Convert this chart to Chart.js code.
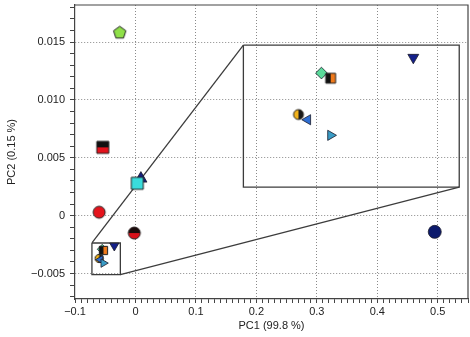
<!DOCTYPE html>
<html>
<head>
<meta charset="utf-8">
<script src="https://cdn.jsdelivr.net/npm/chart.js@4/dist/chart.umd.min.js"></script>
<style>
  html, body { margin: 0; padding: 0; background: #fff; }
  canvas { display: block; }
</style>
</head>
<body>
<canvas id="chart" width="470" height="337"></canvas>
<script>
// ---- data ----
const samples = ["S1", "S2", "S3", "S4", "S5", "S6", "S7", "S8", "S9", "S10", "S11", "S12", "S13"];
const pc1 = [-0.026, -0.054, -0.060, -0.002, 0.009, 0.003, 0.495, -0.055, -0.053, -0.035, -0.060, -0.058, -0.053];
const pc2 = [0.0158, 0.0059, 0.0003, -0.0015, 0.0032, 0.0028, -0.0014, -0.0029, -0.0030, -0.0026, -0.0037, -0.0038, -0.0041];
const clustered = [7, 8, 9, 10, 11, 12]; // samples shown magnified in the inset

const xTicks = [-0.1, 0, 0.1, 0.2, 0.3, 0.4, 0.5];
const xTickLabels = ["\u22120.1", "0", "0.1", "0.2", "0.3", "0.4", "0.5"];
const yTicks = [-0.005, 0, 0.005, 0.010, 0.015];
const yTickLabels = ["\u22120.005", "0", "0.005", "0.010", "0.015"];
const xRange = [-0.1, 0.55];
const yRange = [-0.0072, 0.0182];
const xMinorStep = 0.01;
const yMinorStep = 0.001;

// zoom: small box around the cluster -> big inset box
const zoomFromX = [-0.072, -0.025];
const zoomFromY = [-0.0051, -0.00236];
const zoomToX = [0.1785, 0.5355];
const zoomToY = [0.00246, 0.01474];

// ---- styles ----
function makeMarker(shape, fill, fill2, split, r) {
  const s = Math.ceil(2 * r + 4);
  const c = document.createElement("canvas");
  c.width = s; c.height = s;
  const g = c.getContext("2d");
  g.translate(s / 2, s / 2);
  const path = () => {
    g.beginPath();
    if (shape === "circle") g.arc(0, 0, r, 0, Math.PI * 2);
    else if (shape === "square") g.rect(-r, -r, 2 * r, 2 * r);
    else {
      for (let i = 0; i < 5; i++) {
        const a = -Math.PI / 2 + i * 2 * Math.PI / 5;
        g.lineTo(r * Math.cos(a), r * Math.sin(a));
      }
      g.closePath();
    }
  };
  path(); g.fillStyle = fill; g.fill();
  if (fill2) {
    g.save(); path(); g.clip();
    g.fillStyle = fill2;
    if (split === "top") g.fillRect(-s, -s, 2 * s, s);
    else g.fillRect(0, -s, s, 2 * s);
    g.restore();
  }
  path(); g.lineWidth = 1; g.strokeStyle = "#222"; g.stroke();
  return c;
}

// marker for each sample at a given size (small = in the cluster, big = main / inset)
function styleFor(i, k) {
  switch (i) {
    case 0: return { pointStyle: makeMarker("pentagon", "#8fe048", null, null, 6.5 * k) };
    case 1: return { pointStyle: makeMarker("square", "#e3121c", "#111", "top", 6 * k) };
    case 2: return { pointStyle: makeMarker("circle", "#e5141c", null, null, 6 * k) };
    case 3: return { pointStyle: makeMarker("circle", "#d8101a", "#1a0a0a", "top", 6 * k) };
    case 4: return { pointStyle: "triangle", radius: 7 * k, bg: "#15207e", rot: 0 };
    case 5: return { pointStyle: makeMarker("square", "#39dcdc", null, null, 6 * k) };
    case 6: return { pointStyle: "circle", radius: 6.5 * k, bg: "#0c1a6c", rot: 0 };
    case 7: return { pointStyle: "rectRot", radius: 6.5 * k, bg: "#5ada9a", rot: 0 };
    case 8: return { pointStyle: makeMarker("square", "#111", "#f07a1c", "right", 5.5 * k) };
    case 9: return { pointStyle: "triangle", radius: 7 * k, bg: "#14208a", rot: 180 };
    case 10: return { pointStyle: makeMarker("circle", "#f2b21a", "#1a1a1a", "right", 5.5 * k) };
    case 11: return { pointStyle: "triangle", radius: 6.5 * k, bg: "#2e6ed2", rot: -90 };
    case 12: return { pointStyle: "triangle", radius: 6.5 * k, bg: "#3a9cc6", rot: 90 };
  }
}

function toInset(x, y) {
  const fx = (x - zoomFromX[0]) / (zoomFromX[1] - zoomFromX[0]);
  const fy = (y - zoomFromY[0]) / (zoomFromY[1] - zoomFromY[0]);
  return {
    x: zoomToX[0] + fx * (zoomToX[1] - zoomToX[0]),
    y: zoomToY[0] + fy * (zoomToY[1] - zoomToY[0])
  };
}

function pointDataset(i, pt, k) {
  const st = styleFor(i, k);
  return {
    label: samples[i],
    data: [pt],
    pointStyle: st.pointStyle,
    pointRadius: st.radius || 6 * k,
    pointRotation: st.rot || 0,
    backgroundColor: st.bg || "#000",
    borderColor: "#1a1a2a",
    borderWidth: 0.8
  };
}

function lineDataset(pts) {
  return {
    type: "line",
    data: pts,
    borderColor: "#3c3c3c",
    borderWidth: 1.3,
    pointRadius: 0,
    fill: false,
    tension: 0
  };
}

// ---- datasets ----
const datasets = [];
datasets.push(lineDataset([
  { x: zoomFromX[0], y: zoomFromY[1] }, { x: zoomFromX[1], y: zoomFromY[1] },
  { x: zoomFromX[1], y: zoomFromY[0] }, { x: zoomFromX[0], y: zoomFromY[0] },
  { x: zoomFromX[0], y: zoomFromY[1] }
]));
datasets.push(lineDataset([
  { x: zoomToX[0], y: zoomToY[1] }, { x: zoomToX[1], y: zoomToY[1] },
  { x: zoomToX[1], y: zoomToY[0] }, { x: zoomToX[0], y: zoomToY[0] },
  { x: zoomToX[0], y: zoomToY[1] }
]));
datasets.push(lineDataset([{ x: zoomFromX[0], y: zoomFromY[1] }, { x: zoomToX[0], y: zoomToY[1] }]));
datasets.push(lineDataset([{ x: zoomFromX[1], y: zoomFromY[0] }, { x: zoomToX[1], y: zoomToY[0] }]));

samples.forEach((s, i) => {
  const inCluster = clustered.includes(i);
  datasets.push(pointDataset(i, { x: pc1[i], y: pc2[i] }, inCluster ? 0.75 : 1));
});
clustered.forEach(i => {
  datasets.push(pointDataset(i, toInset(pc1[i], pc2[i]), 0.9));
});
// later in the list = drawn on top
datasets.forEach((d, i) => { d.order = datasets.length - i; });

// ---- axes helpers ----
function minorTicks(range, step) {
  const out = [];
  const a = Math.ceil(range[0] / step - 1e-6), b = Math.floor(range[1] / step + 1e-6);
  for (let n = a; n <= b; n++) out.push({ value: +(n * step).toFixed(6) });
  return out;
}
function majorIndex(list, v) {
  return list.findIndex(t => Math.abs(t - v) < 1e-7);
}

const frame = {
  id: "frame",
  afterDatasetsDraw(chart) {
    const { ctx, chartArea: a } = chart;
    ctx.save();
    ctx.strokeStyle = "#444";
    ctx.lineWidth = 1.2;
    ctx.beginPath();
    ctx.moveTo(a.left, a.top);
    ctx.lineTo(a.right, a.top);
    ctx.lineTo(a.right, a.bottom);
    ctx.stroke();
    ctx.restore();
  }
};

const font = { family: "'Liberation Sans', Arial, sans-serif", size: 11 };

new Chart(document.getElementById("chart"), {
  type: "scatter",
  data: { datasets: datasets },
  plugins: [frame],
  options: {
    responsive: false,
    animation: false,
    layout: { autoPadding: false, padding: { top: 5, right: 2, left: 0, bottom: 0 } },
    plugins: { legend: { display: false }, tooltip: { enabled: false } },
    scales: {
      x: {
        type: "linear",
        min: xRange[0], max: xRange[1],
        afterBuildTicks: s => { s.ticks = minorTicks(xRange, xMinorStep); },
        afterFit: s => { s.height = 38; s.paddingLeft = 0; s.paddingRight = 0; },
        ticks: {
          autoSkip: false, maxRotation: 0, minRotation: 0, padding: 2,
          color: "#222", font: font,
          callback: v => { const k = majorIndex(xTicks, v); return k >= 0 ? xTickLabels[k] : ""; }
        },
        grid: {
          color: c => (c.tick && majorIndex(xTicks, c.tick.value) > 0 ? "#8a8a8a" : "rgba(0,0,0,0)"),
          tickColor: "#444", tickLength: 4, tickWidth: 1, lineWidth: 1
        },
        border: { color: "#444", width: 1.2, dash: [1, 2] },
        title: { display: true, text: "PC1 (99.8 %)", color: "#222", font: font, padding: { top: 0, bottom: 4 } }
      },
      y: {
        type: "linear",
        min: yRange[0], max: yRange[1],
        afterBuildTicks: s => { s.ticks = minorTicks(yRange, yMinorStep); },
        afterFit: s => { s.width = 75; s.paddingTop = 0; s.paddingBottom = 0; },
        ticks: {
          autoSkip: false, padding: 5,
          color: "#222", font: font,
          callback: v => { const k = majorIndex(yTicks, v); return k >= 0 ? yTickLabels[k] : ""; }
        },
        grid: {
          color: c => (c.tick && majorIndex(yTicks, c.tick.value) >= 0 ? "#8a8a8a" : "rgba(0,0,0,0)"),
          tickColor: "#444", tickLength: 5, tickWidth: 1, lineWidth: 1
        },
        border: { color: "#444", width: 1.2, dash: [1, 2] },
        title: { display: true, text: "PC2 (0.15 %)", color: "#222", font: font, padding: { top: 5, bottom: 0 } }
      }
    }
  }
});
</script>
</body>
</html>
